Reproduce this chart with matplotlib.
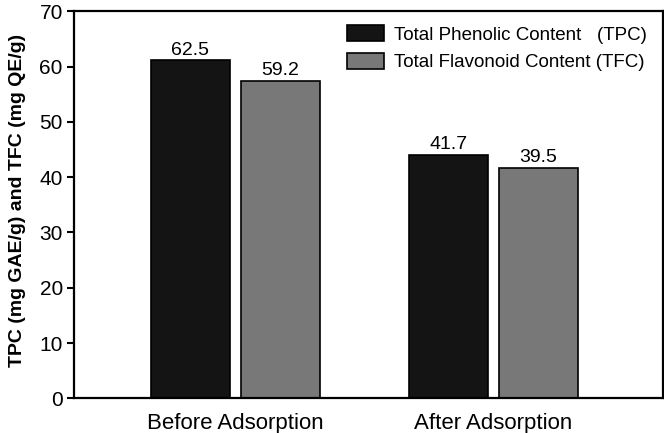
import numpy as np
import matplotlib
matplotlib.use("Agg")
import matplotlib.pyplot as plt

# ---------------- data ----------------
groups = ["Before Adsorption", "After Adsorption"]
tpc_heights = [61.1, 44.0]
tfc_heights = [57.4, 41.7]
tpc_labels = ["62.5", "41.7"]
tfc_labels = ["59.2", "39.5"]
series_names = ["Total Phenolic Content   (TPC)", "Total Flavonoid Content (TFC)"]

plt.rcParams["font.family"] = ["Liberation Sans", "DejaVu Sans"]

fig = plt.figure(figsize=(6.64, 4.33), dpi=100)
ax = fig.add_axes([0.1114, 0.0801, 0.887, 0.894])

x = np.arange(len(groups))
w = 0.304
off = 0.175
b1 = ax.bar(x - off, tpc_heights, w, color="#141414", edgecolor="black", linewidth=1.2,
            label=series_names[0])
b2 = ax.bar(x + off, tfc_heights, w, color="#787878", edgecolor="black", linewidth=1.2,
            label=series_names[1])

for bars, labs in [(b1, tpc_labels), (b2, tfc_labels)]:
    for rect, lab in zip(bars, labs):
        ax.text(rect.get_x() + rect.get_width() / 2, rect.get_height() + 0.3, lab,
                ha="center", va="bottom", fontsize=14)

ax.set_xlim(-0.626, 1.657)
ax.set_ylim(0, 70)
ax.set_yticks(range(0, 71, 10))
ax.set_xticks(x)
ax.set_xticklabels(groups, fontsize=16)
ax.tick_params(axis="x", length=0, pad=10.5)
ax.tick_params(axis="y", length=5, width=1.5, labelsize=15, pad=3)
for s in ax.spines.values():
    s.set_linewidth(1.6)

ax.set_ylabel("TPC (mg GAE/g) and TFC (mg QE/g)", fontsize=14, fontweight="bold")
ax.yaxis.set_label_coords(-0.082, 0.512)

ax.legend(loc="upper left", bbox_to_anchor=(347 / 664, 1 - 25 / 433),
          bbox_transform=fig.transFigure, frameon=False, fontsize=13.5,
          borderpad=0, borderaxespad=0,
          handlelength=2.0, handleheight=0.95, handletextpad=0.5, labelspacing=0.5)

plt.savefig("out.png", dpi=100)
